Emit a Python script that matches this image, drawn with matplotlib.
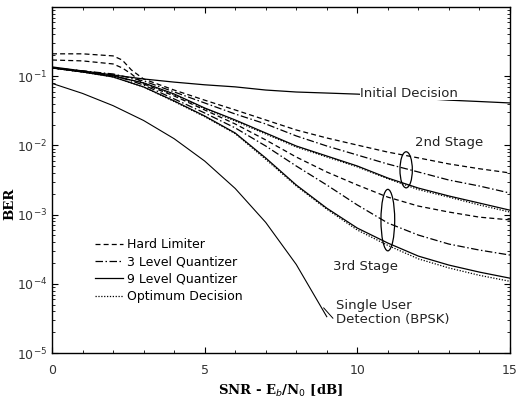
import numpy as np
import matplotlib
matplotlib.use("Agg")
import matplotlib.pyplot as plt
from matplotlib.patches import Ellipse
from matplotlib.ticker import MultipleLocator, LogLocator, NullFormatter

# SNR grid (dB)
snr = [0, 1, 2, 3, 4, 5, 6, 7, 8, 9, 10, 11, 12, 13, 14, 15]
snr_hl = [0, 1, 2, 2.3, 2.6, 3, 4, 5, 6, 7, 8, 9, 10, 11, 12, 13, 14, 15]
snr_bpsk = [0, 1, 2, 3, 4, 5, 6, 7, 8, 9]

# BER values
ber_initial = [0.136, 0.119, 0.104, 0.091, 0.082, 0.075, 0.070, 0.063, 0.059,
               0.057, 0.055, 0.052, 0.048, 0.045, 0.043, 0.041]

# 2nd stage
hard_2 = [0.21, 0.21, 0.196, 0.171, 0.123, 0.091, 0.063, 0.045, 0.0325, 0.0233,
          0.0167, 0.0128, 0.0101, 0.0080, 0.0066, 0.0054, 0.0046, 0.0040]
lev3_2 = [0.1315, 0.119, 0.1076, 0.0853, 0.0592, 0.041, 0.0284, 0.0204, 0.0137,
          0.0098, 0.00726, 0.00538, 0.00413, 0.00316, 0.00259, 0.00205]
lev9_2 = [0.1315, 0.115, 0.1007, 0.0798, 0.0553, 0.0347, 0.0233, 0.0151, 0.0098,
          0.00703, 0.00504, 0.00338, 0.00242, 0.00186, 0.00147, 0.00116]
opt_2 = [0.1315, 0.115, 0.1007, 0.0798, 0.054, 0.034, 0.0225, 0.0146, 0.0095,
         0.0068, 0.0049, 0.0033, 0.0023, 0.00179, 0.00138, 0.00109]

# 3rd stage
hard_3 = [0.171, 0.166, 0.150, 0.1315, 0.1076, 0.0771, 0.0518, 0.0325, 0.0204,
          0.0120, 0.00679, 0.00413, 0.00268, 0.00179, 0.00133, 0.00109, 0.00092, 0.00084]
lev3_3 = [0.1315, 0.119, 0.104, 0.0746, 0.0469, 0.0294, 0.0179, 0.0098, 0.00504,
          0.00268, 0.00138, 0.000757, 0.000507, 0.000376, 0.000308, 0.000261]
lev9_3 = [0.1315, 0.115, 0.0973, 0.0698, 0.0439, 0.0266, 0.0151, 0.00658, 0.00268,
          0.00124, 0.00064, 0.000389, 0.000252, 0.000187, 0.000148, 0.000121]
opt_3 = [0.1315, 0.115, 0.0973, 0.0698, 0.0430, 0.026, 0.0148, 0.0063, 0.0026,
         0.0012, 0.00060, 0.00036, 0.00023, 0.00017, 0.000133, 0.000109]

ber_bpsk = [0.0786, 0.0563, 0.0375, 0.0229, 0.0125, 0.00595, 0.00239,
            0.000773, 0.000191, 0.0000336]

legend_labels = ["Hard Limiter", "3 Level Quantizer", "9 Level Quantizer", "Optimum Decision"]

fig = plt.figure(figsize=(5.24, 4.05), dpi=100)
ax = fig.add_axes([0.0992, 0.128, 0.874, 0.855])

lw = 0.9
hl_style = dict(color="black", lw=lw, ls=(0, (4, 2.5)))
l3_style = dict(color="black", lw=lw, ls=(0, (6, 2, 1.2, 2)))
l9_style = dict(color="black", lw=lw, ls="-")
op_style = dict(color="black", lw=lw, ls=(0, (1, 1.3)))

ax.plot(snr, ber_initial, color="black", lw=lw)
h_hl, = ax.plot(snr_hl, hard_2, **hl_style)
ax.plot(snr_hl, hard_3, **hl_style)
h_l3, = ax.plot(snr, lev3_2, **l3_style)
ax.plot(snr, lev3_3, **l3_style)
h_l9, = ax.plot(snr, lev9_2, **l9_style)
ax.plot(snr, lev9_3, **l9_style)
h_op, = ax.plot(snr, opt_2, **op_style)
ax.plot(snr, opt_3, **op_style)
ax.plot(snr_bpsk, ber_bpsk, color="black", lw=0.8)

ax.set_yscale("log")
ax.set_xlim(0, 15)
ax.set_ylim(1e-5, 1)

ax.xaxis.set_major_locator(MultipleLocator(5))
ax.xaxis.set_minor_locator(MultipleLocator(1))
ax.yaxis.set_minor_locator(LogLocator(base=10, subs=np.arange(2, 10), numticks=20))
ax.yaxis.set_minor_formatter(NullFormatter())
ax.set_yticks([1e-5, 1e-4, 1e-3, 1e-2, 1e-1])
ax.set_yticklabels([r"$10^{-5}$", r"$10^{-4}$", r"$10^{-3}$", r"$10^{-2}$", r"$10^{-1}$"])
ax.tick_params(which="both", direction="in", top=True, right=True, colors="black",
               labelcolor="#333333", labelsize=9)
ax.tick_params(which="major", length=4, width=0.8)
ax.tick_params(which="minor", length=2, width=0.6)
ax.tick_params(axis="x", pad=8)
for s in ax.spines.values():
    s.set_linewidth(1.0)

ax.set_xlabel(r"SNR - E$_b$/N$_0$ [dB]", family="DejaVu Serif", fontweight="bold",
              fontsize=9.5, labelpad=4)
ax.set_ylabel("BER", family="DejaVu Serif", fontweight="bold", fontsize=9.5)
ax.yaxis.set_label_coords(-0.078, 0.43)

ax.legend([h_hl, h_l3, h_l9, h_op], legend_labels, loc="upper left",
          bbox_to_anchor=(0.07, 0.365), frameon=False, fontsize=9,
          handlelength=2.2, handletextpad=0.3, labelspacing=0.35)

# ellipses grouping the stages (placed from the curves in axes coordinates)
to_axes = ax.transData + ax.transAxes.inverted()


def stage_ellipse(x, top_curve, top_snr, bot_curve, bot_snr, pad, width):
    top = np.exp(np.interp(x, top_snr, np.log(top_curve)))
    bot = np.exp(np.interp(x, bot_snr, np.log(bot_curve)))
    (xa, ya_top), (_, ya_bot) = to_axes.transform([(x, top), (x, bot)])
    h = (ya_top - ya_bot) + pad
    ax.add_patch(Ellipse((xa, (ya_top + ya_bot) / 2), width, h, transform=ax.transAxes,
                         fill=False, color="black", lw=0.9))


stage_ellipse(11.6, hard_2, snr_hl, lev9_2, snr, 0.022, 0.027)
stage_ellipse(11.0, hard_3, snr_hl, lev9_3, snr, 0.045, 0.03)

txt = dict(fontsize=9.5, color="#222222", family="DejaVu Sans")
ax.text(10.1, 0.057, "Initial Decision", va="center", ha="left",
        bbox=dict(fc="white", ec="none", pad=0.3), **txt)
ax.text(11.9, 0.011, "2nd Stage", va="center", ha="left", **txt)
ax.text(9.2, 0.00022, "3rd Stage", va="top", ha="left", **txt)
ax.text(9.3, 0.00006, "Single User\nDetection (BPSK)", va="top", ha="left",
        linespacing=1.1, **txt)
ax.plot([8.9, 9.2], [0.000045, 0.000032], color="black", lw=0.7)

fig.savefig("out.png", dpi=100)
